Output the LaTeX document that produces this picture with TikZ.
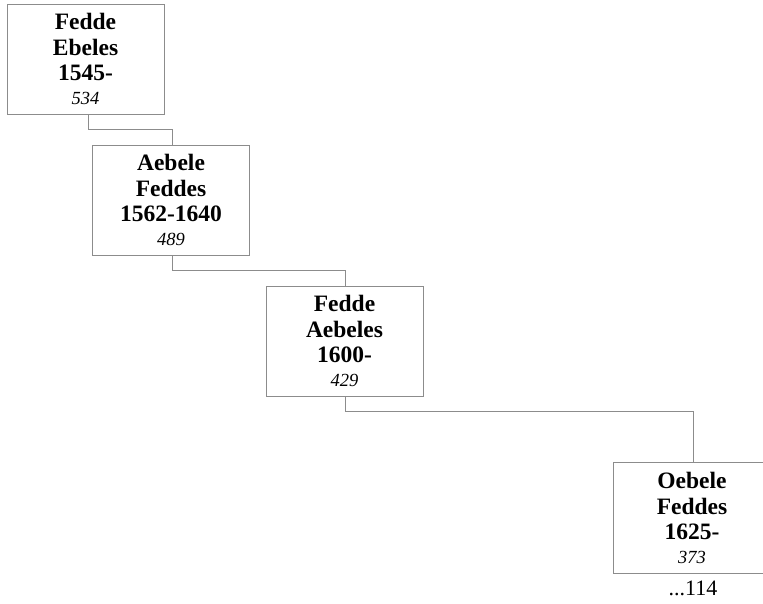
\documentclass[tikz,border=0pt]{standalone}
\usepackage{fontspec}
\setmainfont{Liberation Serif}
\definecolor{boxgray}{HTML}{8C8C8C}
\tikzset{
  x=1pt, y=-1pt,
  person/.style={draw=boxgray, line width=1pt, minimum width=157pt, minimum height=110pt,
    inner sep=0pt, align=center, font=\fontsize{23.5}{25.5}\selectfont\bfseries},
  openperson/.style={person, draw=none},
  boxline/.style={draw=boxgray, line width=1pt},
  link/.style={draw=boxgray, line width=0.9pt},
  numtxt/.style={font=\fontsize{22}{26}\selectfont, inner sep=0pt}
}
\newcommand{\refno}[1]{\\[-2pt]{\fontsize{18.5}{22}\selectfont\mdseries\itshape #1}}
\begin{document}
\begin{tikzpicture}
\useasboundingbox (0,0) rectangle (763,603);
\node[person] (b1) at (85.5,59) {Fedde\\Ebeles\\1545-\refno{534}};
\node[person] (b2) at (171,200) {Aebele\\Feddes\\1562-1640\refno{489}};
\node[person] (b3) at (344.5,341) {Fedde\\Aebeles\\1600-\refno{429}};
\node[openperson] (b4) at (692,518) {Oebele\\Feddes\\1625-\refno{373}};
\draw[boxline] ([xshift=30pt]b4.north east) -- (b4.north west) -- (b4.south west) -- ([xshift=30pt]b4.south east);
\coordinate (c1) at (88,129);
\coordinate (c2) at (172,129);
\coordinate (c3) at (172,270);
\coordinate (c4) at (345,270);
\coordinate (c5) at (345,411);
\coordinate (c6) at (693,411);
\draw[link] (b1.south -| c1) -- (c1) -- (c2) -- (b2.north -| c2);
\draw[link] (b2.south -| c3) -- (c3) -- (c4) -- (b3.north -| c4);
\draw[link] (b3.south -| c5) -- (c5) -- (c6) -- (b4.north -| c6);
\node[numtxt, anchor=base] (more) at (693,595) {...114};
\end{tikzpicture}
\end{document}
